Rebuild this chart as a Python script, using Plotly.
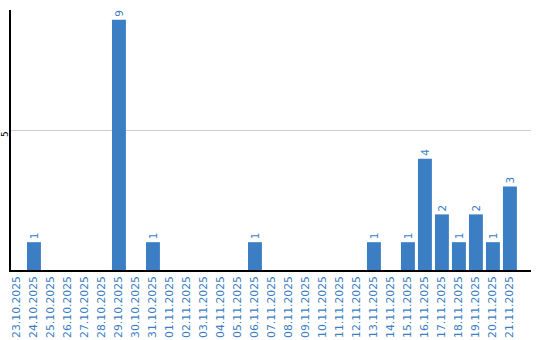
import plotly.graph_objects as go

dates = ["23.10.2025","24.10.2025","25.10.2025","26.10.2025","27.10.2025","28.10.2025",
         "29.10.2025","30.10.2025","31.10.2025","01.11.2025","02.11.2025","03.11.2025",
         "04.11.2025","05.11.2025","06.11.2025","07.11.2025","08.11.2025","09.11.2025",
         "10.11.2025","11.11.2025","12.11.2025","13.11.2025","14.11.2025","15.11.2025",
         "16.11.2025","17.11.2025","18.11.2025","19.11.2025","20.11.2025","21.11.2025"]
counts = [0,1,0,0,0,0,9,0,1,0,0,0,0,0,1,0,0,0,0,0,0,1,0,1,4,2,1,2,1,3]
ytick_vals = [5]
ytick_text = ["5"]

blue = "#3b7ec4"
texts = [str(v) if v > 0 else "" for v in counts]

fig = go.Figure(go.Bar(
    x=dates, y=counts, marker_color=blue, marker_line_width=0,
    text=texts, textposition="outside", textangle=-90,
    textfont=dict(color=blue, size=10.5, family="DejaVu Sans"),
    cliponaxis=False,
))
fig.update_layout(
    width=540, height=340, margin=dict(l=11, r=9, t=10, b=70),
    plot_bgcolor="white", paper_bgcolor="white", showlegend=False,
    bargap=0.18, font=dict(family="DejaVu Sans", size=10),
)
fig.update_xaxes(type="category", range=[-0.35, 30.24], tickangle=-90, automargin=False,
                 tickfont=dict(color=blue, size=10.8), showline=True, linecolor="black",
                 linewidth=1.5, ticks="", showgrid=False)
fig.update_yaxes(range=[0, 9.35], tickvals=ytick_vals, showticklabels=False, automargin=False,
                 showline=True, linecolor="black",
                 linewidth=1.5, showgrid=True, gridcolor="#cccccc", zeroline=False, ticks="")
for v, t in zip(ytick_vals, ytick_text):
    fig.add_annotation(x=0, xref="paper", y=v, yref="y", text=t, showarrow=False,
                       textangle=-90, xanchor="center", yanchor="middle", xshift=-6, yshift=-3,
                       font=dict(color="black", size=9, family="DejaVu Sans"))
fig.write_html("out.html")
